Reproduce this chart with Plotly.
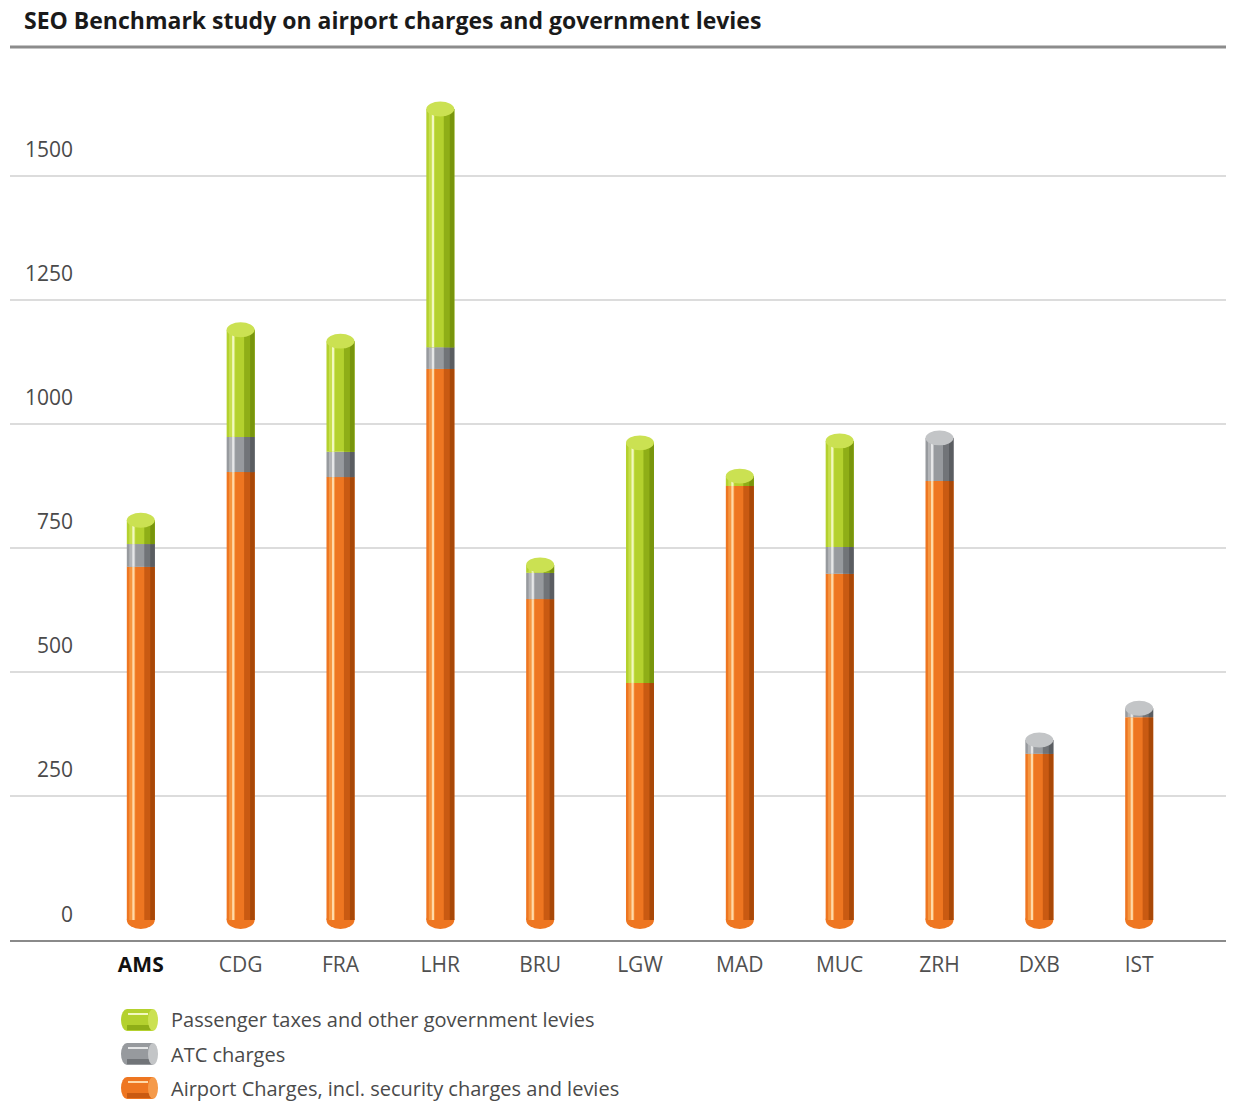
import plotly.graph_objects as go

airports = ["AMS", "CDG", "FRA", "LHR", "BRU", "LGW", "MAD", "MUC", "ZRH", "DXB", "IST"]
airport_charges = [712, 903, 893, 1111, 647, 478, 875, 698, 885, 335, 409]
atc_charges = [46, 71, 51, 44, 53, 0, 0, 54, 87, 28, 18]
passenger_taxes = [48, 216, 223, 480, 16, 484, 20, 214, 0, 0, 0]

y_ticks = [0, 250, 500, 750, 1000, 1250, 1500]
series_names = [
    "Airport Charges, incl. security charges and levies",
    "ATC charges",
    "Passenger taxes and other government levies",
]
title_text = "SEO Benchmark study on airport charges and government levies"

FONT = "Open Sans"
palette = {
    "orange": dict(main="#EE7621", light="#F6953F", hl="#FFD9A8", dark="#C95A12", darker="#A84808", cap="#F59A4A"),
    "gray": dict(main="#979A9E", light="#B4B6B9", hl="#E6E7E8", dark="#717478", darker="#5A5D61", cap="#C3C5C7"),
    "green": dict(main="#B4D12E", light="#C8DF4E", hl="#F2F8C0", dark="#8FAE17", darker="#78950C", cap="#CBE152"),
}

x = list(range(len(airports)))
BW = 0.28

# page geometry (body has an 8px margin in the viewer)
FIG_W, FIG_H = 1226, 1094
M_L, M_R, M_T, M_B = 2, 0, 52, 162
PLOT_W = FIG_W - M_L - M_R
PLOT_H = FIG_H - M_T - M_B


def px_to_paper_x(px):
    return (px - 8 - M_L) / PLOT_W


def px_to_paper_y(py):
    return (FIG_H - M_B - (py - 8)) / PLOT_H


fig = go.Figure()

bases_orange = [0] * len(x)
bases_gray = [a for a in airport_charges]
bases_green = [a + b for a, b in zip(airport_charges, atc_charges)]

stack = [
    (series_names[0], airport_charges, bases_orange, "orange"),
    (series_names[1], atc_charges, bases_gray, "gray"),
    (series_names[2], passenger_taxes, bases_green, "green"),
]

bands = [
    (-0.115, 0.06, "light"),
    (-0.085, 0.022, "hl"),
    (0.035, 0.105, "dark"),
    (0.095, 0.045, "darker"),
]

for name, vals, base, ckey in stack:
    col = palette[ckey]
    fig.add_trace(go.Bar(
        x=x, y=vals, base=base, name=name,
        marker=dict(color=col["main"], line=dict(width=0)),
        width=BW, offset=-BW / 2, showlegend=False, hoverinfo="skip",
    ))
    for off, w, k in bands:
        fig.add_trace(go.Bar(
            x=x, y=vals, base=base, showlegend=False, name=name,
            marker=dict(color=col[k], line=dict(width=0)),
            width=w, offset=off, hoverinfo="skip",
        ))

shapes = []
totals = [a + b + c for a, b, c in zip(airport_charges, atc_charges, passenger_taxes)]

for i in x:
    if passenger_taxes[i] > 0:
        capc = palette["green"]["cap"]
    elif atc_charges[i] > 0:
        capc = palette["gray"]["cap"]
    else:
        capc = palette["orange"]["cap"]
    shapes.append(dict(type="circle", xref="x", yref="y",
                       x0=i - BW / 2, x1=i + BW / 2,
                       y0=totals[i] - 15, y1=totals[i] + 15,
                       fillcolor=capc, line=dict(width=0), layer="above"))
    shapes.append(dict(type="circle", xref="x", yref="y",
                       x0=i - BW / 2, x1=i + BW / 2,
                       y0=-18, y1=18,
                       fillcolor=palette["orange"]["main"], line=dict(width=0), layer="below"))

# title rule
shapes.append(dict(type="line", xref="paper", yref="paper", x0=0, x1=1,
                   y0=px_to_paper_y(47), y1=px_to_paper_y(47),
                   line=dict(color="#8C8C8C", width=3)))

annotations = [dict(
    x=px_to_paper_x(22), xref="paper", y=px_to_paper_y(20), yref="paper",
    text=f"<b>{title_text}</b>", showarrow=False, xanchor="left", yanchor="middle",
    font=dict(family=FONT, size=23, color="#1A1A1A"),
)]
for v in y_ticks:
    annotations.append(dict(
        x=px_to_paper_x(75), xref="paper", y=v, yref="y", text=str(v),
        showarrow=False, xanchor="right", yanchor="middle",
        yshift=6 if v == 0 else 27,
        font=dict(family=FONT, size=21, color="#4A4A4A"),
    ))

# legend (cylinder swatches + labels)
legend_rows = [(1020, "green", series_names[2]), (1054, "gray", series_names[1]),
               (1088, "orange", series_names[0])]
for yc, ckey, label in legend_rows:
    col = palette[ckey]
    y0, y1 = px_to_paper_y(yc + 11), px_to_paper_y(yc - 11)
    shapes.append(dict(type="circle", xref="paper", yref="paper",
                       x0=px_to_paper_x(121), x1=px_to_paper_x(133), y0=y0, y1=y1,
                       fillcolor=col["main"], line=dict(width=0)))
    shapes.append(dict(type="rect", xref="paper", yref="paper",
                       x0=px_to_paper_x(127), x1=px_to_paper_x(153), y0=y0, y1=y1,
                       fillcolor=col["main"], line=dict(width=0)))
    shapes.append(dict(type="rect", xref="paper", yref="paper",
                       x0=px_to_paper_x(127), x1=px_to_paper_x(153),
                       y0=px_to_paper_y(yc + 10), y1=px_to_paper_y(yc + 5),
                       fillcolor=col["dark"], line=dict(width=0)))
    shapes.append(dict(type="rect", xref="paper", yref="paper",
                       x0=px_to_paper_x(128), x1=px_to_paper_x(148),
                       y0=px_to_paper_y(yc - 5), y1=px_to_paper_y(yc - 7),
                       fillcolor=col["hl"], line=dict(width=0)))
    shapes.append(dict(type="circle", xref="paper", yref="paper",
                       x0=px_to_paper_x(148), x1=px_to_paper_x(158), y0=y0, y1=y1,
                       fillcolor=col["cap"], line=dict(width=0)))
    annotations.append(dict(
        x=px_to_paper_x(169), xref="paper", y=px_to_paper_y(yc), yref="paper",
        text=label, showarrow=False, xanchor="left", yanchor="middle",
        font=dict(family=FONT, size=20, color="#4A4A4A"),
    ))

ticktext = ["<b><span style='color:#111111'>AMS</span></b>"] + airports[1:]

fig.update_layout(
    width=FIG_W, height=FIG_H,
    margin=dict(l=M_L, r=M_R, t=M_T, b=M_B),
    paper_bgcolor="white", plot_bgcolor="white",
    barmode="overlay", showlegend=False,
    xaxis=dict(range=[-1.31, 10.95], tickvals=x, ticktext=ticktext,
               showgrid=False, zeroline=False,
               showline=True, linecolor="#8A8A8A", linewidth=2,
               ticks="", ticklabelstandoff=5,
               tickfont=dict(family=FONT, size=21, color="#505050")),
    yaxis=dict(range=[-40.3, 1733.9], tickvals=y_ticks[1:], showticklabels=False,
               showgrid=True, gridcolor="#DCDCDC", gridwidth=2,
               zeroline=False, showline=False, ticks=""),
    shapes=shapes,
    annotations=annotations,
)

fig.write_html("out.html")
